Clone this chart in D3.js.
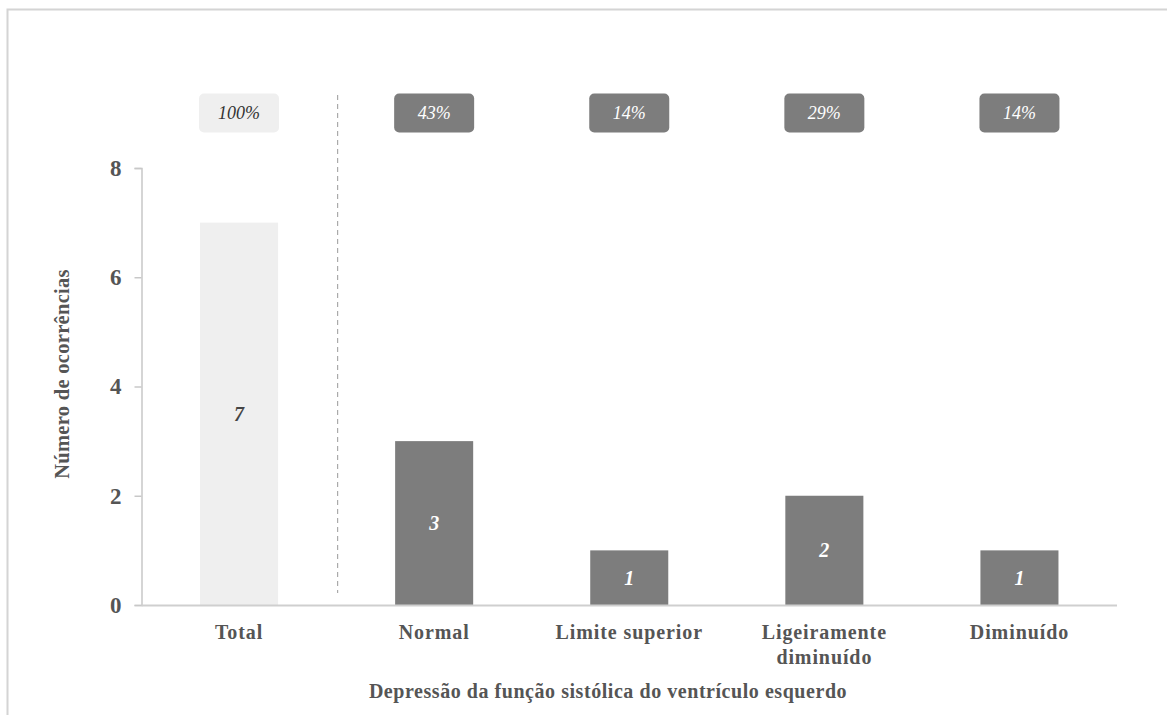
<!DOCTYPE html>
<html>
<head>
<meta charset="utf-8">
<script src="https://cdn.jsdelivr.net/npm/d3@7"></script>
<style>
  html, body { margin: 0; padding: 0; background: #fff; }
  svg { display: block; }
  text { font-family: "Liberation Serif", "Times New Roman", serif; }
</style>
</head>
<body>
<svg id="chart" width="1167" height="715"></svg>
<script>
// Categories and counts
const categories = ["Total", "Normal", "Limite superior", "Ligeiramente diminuído", "Diminuído"];
const labelLines = [["Total"], ["Normal"], ["Limite superior"], ["Ligeiramente", "diminuído"], ["Diminuído"]];
const counts = [7, 3, 1, 2, 1];
const percents = ["100%", "43%", "14%", "29%", "14%"];
const yTicks = [0, 2, 4, 6, 8];

const svg = d3.select("#chart");

// outer frame
svg.append("rect")
  .attr("x", 7.5).attr("y", 9.5)
  .attr("width", 1200).attr("height", 800)
  .attr("fill", "none").attr("stroke", "#d4d4d4").attr("stroke-width", 2);

const x = d3.scaleBand().domain(categories).range([141.5, 1117]).paddingInner(0.6).paddingOuter(0.3);
const y = d3.scaleLinear().domain([0, 8]).range([605, 168]);

const fillFor = (i) => i === 0 ? "#efefef" : "#7d7d7d";

// y axis
const yAxis = svg.append("g")
  .attr("transform", "translate(141.5,0)")
  .call(d3.axisLeft(y).tickValues(yTicks).tickSize(7).tickPadding(13));
yAxis.select(".domain").attr("stroke", "#c8c8c8").attr("stroke-width", 1.5);
yAxis.selectAll(".tick line").attr("stroke", "#c8c8c8").attr("stroke-width", 1.5);
yAxis.selectAll(".tick text")
  .attr("font-size", 23).attr("font-weight", "bold").attr("fill", "#555")
  .attr("font-family", "Liberation Serif, serif");

// bars
svg.append("g").selectAll("rect")
  .data(counts)
  .join("rect")
  .attr("x", (d, i) => x(categories[i]))
  .attr("y", d => y(d))
  .attr("width", x.bandwidth())
  .attr("height", d => y(0) - y(d))
  .attr("fill", (d, i) => fillFor(i));

// baseline
svg.append("line")
  .attr("x1", 141.5).attr("x2", 1117)
  .attr("y1", 605.5).attr("y2", 605.5)
  .attr("stroke", "#cfcfcf").attr("stroke-width", 2);

// value labels inside bars
svg.append("g").selectAll("text")
  .data(counts)
  .join("text")
  .attr("x", (d, i) => x(categories[i]) + x.bandwidth() / 2)
  .attr("y", d => (y(d) + y(0)) / 2)
  .attr("dy", "0.35em")
  .attr("text-anchor", "middle")
  .attr("font-size", 20).attr("font-style", "italic").attr("font-weight", "bold")
  .attr("fill", (d, i) => i === 0 ? "#444" : "#fff")
  .text(d => d);

// percentage badges
const badges = svg.append("g").selectAll("g")
  .data(percents)
  .join("g")
  .attr("transform", (d, i) => `translate(${x(categories[i]) + x.bandwidth() / 2},113)`);
badges.append("rect")
  .attr("x", -40).attr("y", -19.5)
  .attr("width", 80).attr("height", 39)
  .attr("rx", 5).attr("ry", 5)
  .attr("fill", (d, i) => fillFor(i));
badges.append("text")
  .attr("text-anchor", "middle").attr("dy", "0.35em")
  .attr("font-size", 18).attr("font-style", "italic")
  .attr("fill", (d, i) => i === 0 ? "#333" : "#fff")
  .text(d => d);

// dashed separator between Total and the groups
const sepX = x(categories[0]) + x.step() - x.step() * x.paddingInner() / 2 + 1;
svg.append("line")
  .attr("x1", sepX).attr("x2", sepX)
  .attr("y1", 95).attr("y2", 593)
  .attr("stroke", "#aaa").attr("stroke-width", 1.2)
  .attr("stroke-dasharray", "5,4");

// category labels
const catLabels = svg.append("g").selectAll("text")
  .data(labelLines)
  .join("text")
  .attr("x", (d, i) => x(categories[i]) + x.bandwidth() / 2)
  .attr("y", 639)
  .attr("text-anchor", "middle")
  .attr("font-size", 20).attr("font-weight", "bold").attr("fill", "#555")
  .attr("letter-spacing", 0.9);
catLabels.selectAll("tspan")
  .data(d => d)
  .join("tspan")
  .attr("x", function () { return this.parentNode.getAttribute("x"); })
  .attr("dy", (d, j) => j === 0 ? 0 : 25)
  .text(d => d);

// axis titles
svg.append("text")
  .attr("x", 608).attr("y", 698)
  .attr("text-anchor", "middle")
  .attr("font-size", 20).attr("font-weight", "bold").attr("fill", "#555")
  .attr("letter-spacing", 0.55)
  .text("Depressão da função sistólica do ventrículo esquerdo");

svg.append("text")
  .attr("transform", "translate(69,374) rotate(-90)")
  .attr("text-anchor", "middle")
  .attr("font-size", 20.5).attr("font-weight", "bold").attr("fill", "#555")
  .attr("letter-spacing", 0.3)
  .text("Número de ocorrências");
</script>
</body>
</html>
